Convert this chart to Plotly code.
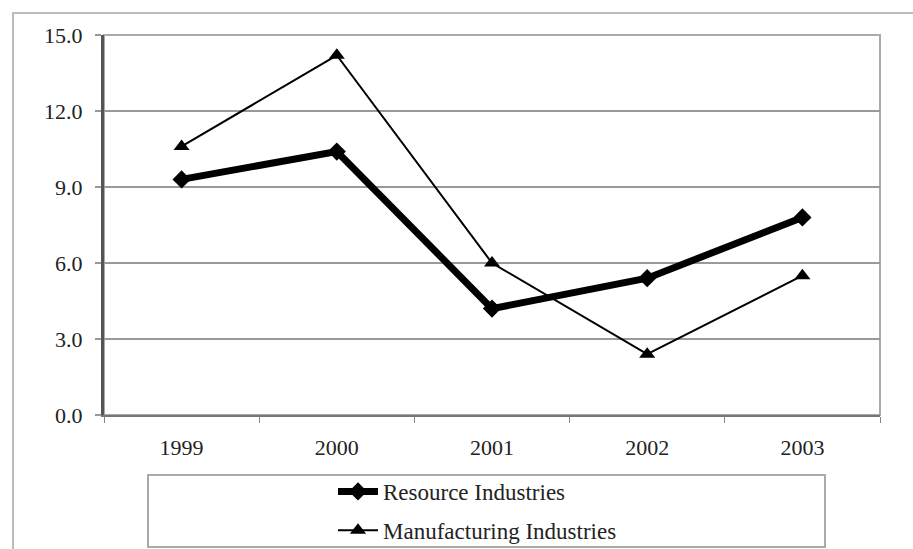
import plotly.graph_objects as go

years = ["1999", "2000", "2001", "2002", "2003"]
resource = [9.3, 10.4, 4.2, 5.4, 7.8]
manufacturing = [10.6, 14.2, 6.0, 2.4, 5.5]
y_ticks = [0, 3, 6, 9, 12, 15]
series_names = ["Resource Industries", "Manufacturing Industries"]

W, H = 913, 549
L, R, T, B = 104, 33, 35, 134
pw, ph = W - L - R, H - T - B

def px_x(x):
    return (x - L) / pw

def px_y(y):
    return (H - B - y) / ph

fig = go.Figure()
fig.add_trace(go.Scatter(
    x=years, y=resource, name=series_names[0], mode="lines+markers",
    line=dict(color="black", width=7),
    marker=dict(symbol="diamond", size=14, color="black"),
    legendgroup="a",
))
fig.add_trace(go.Scatter(
    x=years, y=manufacturing, name=series_names[1], mode="lines+markers",
    line=dict(color="black", width=2),
    marker=dict(symbol="triangle-up", size=14, color="black"),
    legendgroup="b",
))

font = dict(family="Liberation Serif, Times New Roman, serif", size=22, color="#222")

fig.update_layout(
    width=W, height=H,
    margin=dict(l=L, r=R, t=T, b=B, autoexpand=False),
    paper_bgcolor="white", plot_bgcolor="white",
    font=font,
    showlegend=True,
    legend=dict(
        x=px_x(333), y=px_y(470), xanchor="left", yanchor="top",
        bgcolor="rgba(0,0,0,0)", borderwidth=0,
        font=dict(family="Liberation Serif, Times New Roman, serif", size=23, color="#222"),
        tracegroupgap=6, traceorder="grouped", itemwidth=40,
    ),
    xaxis=dict(
        type="category", range=[-0.5, 4.5],
        showgrid=False, showline=True, linecolor="#777", linewidth=2,
        ticks="outside", tickson="boundaries", ticklen=6, tickcolor="#888",
        ticklabelstandoff=12, tickfont=font,
    ),
    yaxis=dict(
        range=[0, 15], tickvals=y_ticks, tickformat=".1f",
        showgrid=True, gridcolor="#999", gridwidth=2,
        showline=True, linecolor="#555", linewidth=3,
        ticks="outside", ticklen=6, tickcolor="#999", tickwidth=2,
        ticklabelstandoff=8, tickfont=font, zeroline=False,
    ),
    shapes=[
        # plot area border
        dict(type="rect", xref="paper", yref="paper", x0=0, x1=1, y0=0, y1=1,
             line=dict(color="#aaa", width=2), layer="below"),
        # legend box
        dict(type="rect", xref="paper", yref="paper",
             x0=px_x(148), x1=px_x(825), y0=px_y(547), y1=px_y(475),
             line=dict(color="#aaa", width=2)),
        # outer chart frame (top and left edges visible)
        dict(type="rect", xref="paper", yref="paper",
             x0=px_x(13), x1=px_x(930), y0=px_y(570), y1=px_y(13),
             line=dict(color="#bbb", width=2)),
    ],
)

fig.write_html("out.html")
